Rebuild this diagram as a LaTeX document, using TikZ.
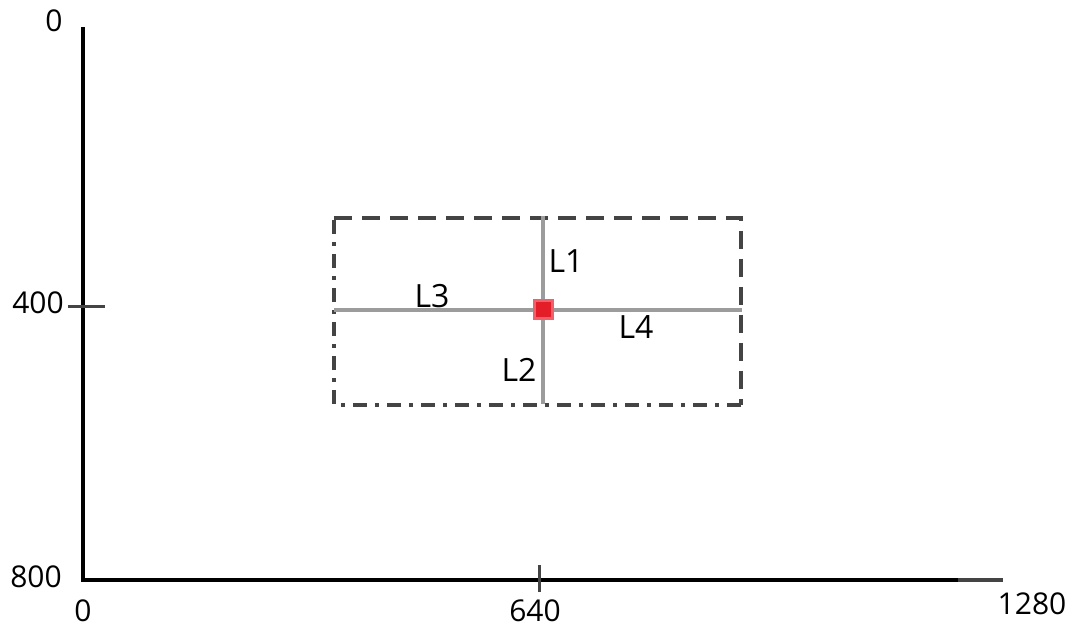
\documentclass[tikz,border=0pt]{standalone}
\usepackage{fontspec}
\setmainfont{Open Sans}
\usetikzlibrary{positioning}
\definecolor{frame}{HTML}{444444}
\definecolor{guide}{HTML}{9C9C9C}
\definecolor{hot}{HTML}{E41E28}
\definecolor{hotrim}{HTML}{F0606A}
\tikzset{axis/.style={line width=1.7pt,draw=black},tick/.style={line width=1.5pt,draw=frame},
 num/.style={font=\fontsize{15}{17}\selectfont,inner sep=0pt},
 lab/.style={font=\fontsize{16}{19}\selectfont,inner sep=0pt},
 guideline/.style={line width=1.6pt,draw=guide},
 dashside/.style={line width=2pt,draw=frame,dash pattern=on 9pt off 5pt},
 dotside/.style={line width=2pt,draw=frame,dash pattern=on 7pt off 4pt on 2pt off 4pt},
 marker/.style={draw=hotrim,fill=hot,line width=1.5pt,minimum size=9pt,inner sep=0pt}}
\begin{document}
\begin{tikzpicture}[x=0.5pt,y=-0.5pt]
\useasboundingbox (0,0) rectangle (1078,626);
% axes
\coordinate (ytop) at (83,27);
\coordinate (o) at (83,580);
\coordinate (xgray) at (958,580);
\coordinate (xend) at (1003,580);
\draw[axis] (ytop) -- (o) -- (xgray);
\draw[axis,draw=frame] (xgray) -- (xend);
\coordinate (t4a) at (68,307);
\coordinate (t4b) at (105,307);
\coordinate (t6a) at (539,565);
\coordinate (t6b) at (539,592);
\draw[tick] (t4a) -- (t4b);
\draw[tick] (t6a) -- (t6b);
\node[num] (y0) at (54,21) {0};
\node[num] (y400) at (38,303) {400};
\node[num] (y800) at (36,577) {800};
\node[num] (x0) at (83,611) {0};
\node[num] (x640) at (535,611) {640};
\node[num] (x1280) at (1032,604) {1280};
% region box
\coordinate (nw) at (334,218);
\coordinate (ne) at (741,218);
\coordinate (se) at (741,405);
\coordinate (sw) at (334,405);
\draw[dashside] (nw) -- (ne) -- (se);
\draw[dotside] (se) -- (sw) -- (nw);
% lines through the point
\coordinate (c) at (543,310);
\coordinate (top) at (543,216);
\coordinate (bot) at (543,404);
\coordinate (lft) at (334,310);
\coordinate (rgt) at (742,310);
\draw[guideline] (c) -- (top);
\draw[guideline] (c) -- (bot);
\draw[guideline] (c) -- (lft);
\draw[guideline] (c) -- (rgt);
\node[marker] (mk) at (c) {};
\node[lab] (l1) at (566,261) {L1};
\node[lab] (l2) at (519,370) {L2};
\node[lab] (l3) at (432,296) {L3};
\node[lab] (l4) at (636,327) {L4};
\end{tikzpicture}
\end{document}
